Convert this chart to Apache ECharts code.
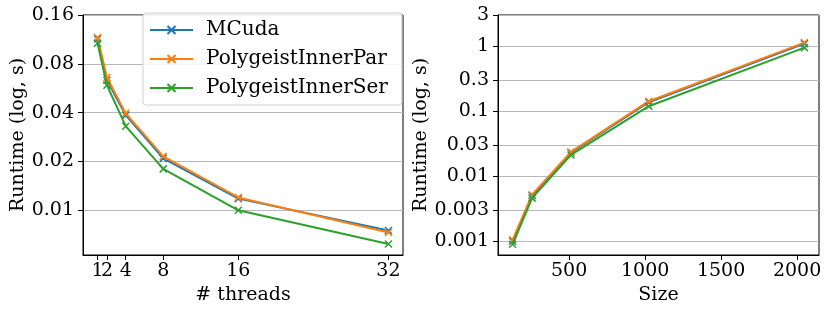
<!DOCTYPE html>
<html>
<head>
<meta charset="utf-8">
<script src="https://cdn.jsdelivr.net/npm/echarts@6/dist/echarts.min.js"></script>
<style>
html,body{margin:0;padding:0;background:#fff;}
#chart{width:830px;height:313px;}
</style>
</head>
<body>
<div id="chart"></div>
<script>
// ---- data ----
var seriesNames = ['MCuda', 'PolygeistInnerPar', 'PolygeistInnerSer'];
var threads = [1, 2, 4, 8, 16, 32];
var mcudaThreads = [0.114, 0.0634, 0.0386, 0.0209, 0.0118, 0.0075];
var parThreads   = [0.116, 0.0659, 0.0396, 0.0215, 0.0120, 0.0073];
var serThreads   = [0.107, 0.0590, 0.0330, 0.0180, 0.0100, 0.0062];

var sizes = [128, 256, 512, 1024, 2048];
var mcudaSize = [0.0010, 0.0050, 0.0230, 0.137, 1.09];
var parSize   = [0.00105, 0.0052, 0.0236, 0.142, 1.13];
var serSize   = [0.0009, 0.0046, 0.0212, 0.119, 0.945];

var threadTicks = [1, 2, 4, 8, 16, 32];
var leftYTicks = [0.01, 0.02, 0.04, 0.08, 0.16];
var sizeTicks = [500, 1000, 1500, 2000];
var rightYTicks = [0.001, 0.003, 0.01, 0.03, 0.1, 0.3, 1, 3];

// ---- styling ----
var colors = ['#1f77b4', '#ff7f0e', '#2ca02c'];
var FONT = 'DejaVu Serif';
var FS = 19;
var xSym = 'path://M0,0L10,10M10,0L0,10';

function zip(xs, ys) { return xs.map(function (x, i) { return [x, ys[i]]; }); }
function fmt(v) { return String(Number(Number(v).toPrecision(3))); }

function axisCommon() {
  return {
    axisLine: { show: true, onZero: false, lineStyle: { color: '#000', width: 1 } },
    axisTick: { show: true, inside: false, length: 5, lineStyle: { color: '#000', width: 1 } },
    axisLabel: { color: '#000', fontFamily: FONT, fontSize: FS, interval: 0, hideOverlap: false },
    nameTextStyle: { color: '#000', fontFamily: FONT, fontSize: FS },
    nameLocation: 'middle'
  };
}

function mk(extra) {
  var o = axisCommon();
  for (var k in extra) {
    if (extra[k] && typeof extra[k] === 'object' && !Array.isArray(extra[k]) && o[k]) {
      for (var j in extra[k]) o[k][j] = extra[k][j];
    } else o[k] = extra[k];
  }
  return o;
}

// thread tick labels are split over two overlaid axes so that the touching "1" and "2" both show
var threadLabelsA = threadTicks.filter(function (v, i) { return i % 2 === 1 || i > 1; });
var threadLabelsB = threadTicks.filter(function (v, i) { return i === 0; });

var xAxes = [
  mk({
    gridIndex: 0, type: 'value', min: -0.55, max: 33.55, name: '# threads', nameGap: 28,
    splitLine: { show: false },
    axisTick: { customValues: threadTicks },
    axisLabel: { customValues: threadLabelsA, formatter: fmt, margin: 7 }
  }),
  mk({
    gridIndex: 1, type: 'value', min: 32, max: 2144, name: 'Size', nameGap: 28,
    splitLine: { show: false },
    axisTick: { customValues: sizeTicks },
    axisLabel: { customValues: sizeTicks, formatter: fmt, margin: 7 }
  }),
  mk({
    gridIndex: 0, type: 'value', min: -0.55, max: 33.55, position: 'bottom', offset: 0,
    splitLine: { show: false },
    axisLine: { show: false },
    axisTick: { show: false },
    axisLabel: { customValues: threadLabelsB, formatter: fmt, margin: 7 }
  })
];
var yAxes = [
  mk({
    gridIndex: 0, type: 'log', logBase: 2, min: 0.0053, max: 0.16,
    name: 'Runtime (log, s)', nameGap: 55,
    splitLine: { show: true, lineStyle: { color: '#b8b8b8', width: 1 } },
    axisTick: { customValues: leftYTicks },
    axisLabel: { customValues: leftYTicks, formatter: fmt, margin: 9 }
  }),
  mk({
    gridIndex: 1, type: 'log', logBase: 10, min: 0.000615, max: 3,
    name: 'Runtime (log, s)', nameGap: 62,
    splitLine: { show: true, lineStyle: { color: '#b8b8b8', width: 1 } },
    axisTick: { customValues: rightYTicks },
    axisLabel: { customValues: rightYTicks, formatter: fmt, margin: 9 }
  })
];

function line(name, idx, xs, ys, gi) {
  return {
    name: name, type: 'line', xAxisIndex: gi, yAxisIndex: gi,
    data: zip(xs, ys),
    symbol: xSym, symbolSize: 7, showSymbol: true,
    lineStyle: { color: colors[idx], width: 2 },
    itemStyle: { color: colors[idx], borderColor: colors[idx], borderWidth: 1.5 },
    emphasis: { disabled: true },
    animation: false,
    z: 3 + idx
  };
}

var chart = echarts.init(document.getElementById('chart'), null, { renderer: 'canvas' });
chart.setOption({
  animation: false,
  backgroundColor: '#fff',
  color: colors,
  grid: [
    { left: 83, right: 427, top: 15, bottom: 58, show: true, borderColor: '#000', borderWidth: 1, backgroundColor: 'transparent' },
    { left: 498, right: 11, top: 15, bottom: 58, show: true, borderColor: '#000', borderWidth: 1, backgroundColor: 'transparent' }
  ],
  legend: {
    data: seriesNames,
    orient: 'vertical',
    left: 143, top: 13,
    itemWidth: 43, itemHeight: 10, itemGap: 9,
    padding: [7, 14, 7, 6],
    borderColor: '#d0d0d0', borderWidth: 1, borderRadius: 3,
    backgroundColor: 'rgba(255,255,255,0.85)',
    textStyle: { color: '#000', fontFamily: FONT, fontSize: 20, padding: [0, 0, 0, 8] },
    selectedMode: false
  },
  xAxis: xAxes,
  yAxis: yAxes,
  series: [
    line(seriesNames[0], 0, threads, mcudaThreads, 0),
    line(seriesNames[1], 1, threads, parThreads, 0),
    line(seriesNames[2], 2, threads, serThreads, 0),
    line(seriesNames[0], 0, sizes, mcudaSize, 1),
    line(seriesNames[1], 1, sizes, parSize, 1),
    line(seriesNames[2], 2, sizes, serSize, 1)
  ]
});
</script>
</body>
</html>
